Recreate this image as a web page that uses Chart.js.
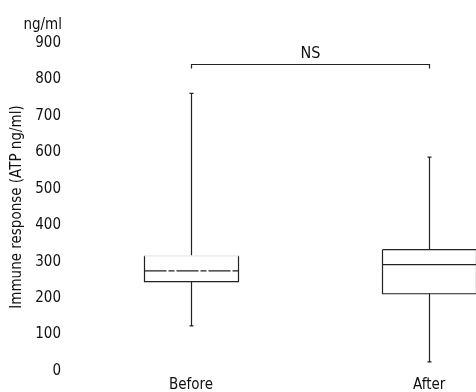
<!DOCTYPE html>
<html>
<head>
<meta charset="utf-8">
<script src="https://cdn.jsdelivr.net/npm/chart.js@4.4.1/dist/chart.umd.min.js"></script>
<style>
  html, body { margin: 0; padding: 0; background: #fff; }
  #wrap { width: 476px; height: 392px; }
</style>
</head>
<body>
<div id="wrap"><canvas id="chart" width="476" height="392"></canvas></div>
<script>
// values
const categories = ['Before', 'After'];
const whiskerLow = [124, 25];
const quartile1 = [245, 212];
const medians = [275, 292];
const quartile3 = [316, 333];
const whiskerHigh = [762, 587];
const yTicks = [0, 100, 200, 300, 400, 500, 600, 700, 800, 900];
const unitLabel = 'ng/ml';
const yTitle = 'Immune response (ATP ng/ml)';
const comparisonLabel = 'NS';
const comparisonLevel = 842;

const ink = '#111';
const lineInk = '#222';
const fontFamily = "'Liberation Sans Narrow', 'DejaVu Sans Condensed', 'Arial Narrow', sans-serif";

const boxPlotPlugin = {
    id: 'boxPlot',
    afterDatasetsDraw(chart) {
        const { ctx, scales: { x, y } } = chart;
        const half = 47;
        const capHalf = 2;

        ctx.save();
        ctx.strokeStyle = lineInk;
        ctx.lineWidth = 1.2;

        categories.forEach((name, i) => {
            const cx = Math.round(x.getPixelForValue(i)) + 0.5;
            const yLow = y.getPixelForValue(whiskerLow[i]);
            const yQ1 = y.getPixelForValue(quartile1[i]);
            const yMed = y.getPixelForValue(medians[i]);
            const yQ3 = y.getPixelForValue(quartile3[i]);
            const yHigh = y.getPixelForValue(whiskerHigh[i]);

            // whiskers
            ctx.beginPath();
            ctx.moveTo(cx, yHigh);
            ctx.lineTo(cx, yQ3);
            ctx.moveTo(cx, yQ1);
            ctx.lineTo(cx, yLow);
            ctx.moveTo(cx - capHalf, yHigh);
            ctx.lineTo(cx + capHalf, yHigh);
            ctx.moveTo(cx - capHalf, yLow);
            ctx.lineTo(cx + capHalf, yLow);
            ctx.stroke();

            // box (the top edge of the first box is faded out in the print)
            ctx.beginPath();
            ctx.moveTo(cx - half, yQ3);
            ctx.lineTo(cx - half, yQ1);
            ctx.lineTo(cx + half, yQ1);
            ctx.lineTo(cx + half, yQ3);
            if (i > 0) ctx.lineTo(cx - half, yQ3);
            ctx.stroke();
            if (i === 0) {
                ctx.save();
                ctx.strokeStyle = '#e8e8e8';
                ctx.beginPath();
                ctx.moveTo(cx - half, yQ3);
                ctx.lineTo(cx + half, yQ3);
                ctx.stroke();
                ctx.restore();
            }

            // median
            ctx.save();
            if (i === 0) ctx.setLineDash([22, 2, 6, 2]);
            ctx.beginPath();
            ctx.moveTo(cx - half, yMed);
            ctx.lineTo(cx + half, yMed);
            ctx.stroke();
            ctx.restore();
        });

        // comparison bracket
        const x0 = Math.round(x.getPixelForValue(0)) + 0.5;
        const x1 = Math.round(x.getPixelForValue(1)) + 0.5;
        const yb = Math.round(y.getPixelForValue(comparisonLevel)) + 0.5;
        ctx.beginPath();
        ctx.moveTo(x0, yb + 4);
        ctx.lineTo(x0, yb);
        ctx.lineTo(x1, yb);
        ctx.lineTo(x1, yb + 4);
        ctx.stroke();

        ctx.fillStyle = ink;
        ctx.font = `16px ${fontFamily}`;
        ctx.textAlign = 'center';
        ctx.textBaseline = 'alphabetic';
        ctx.fillText(comparisonLabel, (x0 + x1) / 2, yb - 7);

        // unit above the y axis
        ctx.font = `15px ${fontFamily}`;
        ctx.textAlign = 'right';
        ctx.fillText(unitLabel, y.right - 2, y.top - 14);

        ctx.restore();
    }
};

const ctx = document.getElementById('chart').getContext('2d');
new Chart(ctx, {
    type: 'scatter',
    data: {
        datasets: [{
            data: medians.map((m, i) => ({ x: i, y: m })),
            pointRadius: 0,
            showLine: false
        }]
    },
    options: {
        responsive: false,
        animation: false,
        layout: { padding: { top: 43, left: 4, right: 0, bottom: 0 } },
        plugins: {
            legend: { display: false },
            tooltip: { enabled: false }
        },
        scales: {
            x: {
                type: 'linear',
                min: -0.534,
                max: 1.197,
                grid: { display: false, drawTicks: false },
                border: { display: false },
                afterBuildTicks: (scale) => {
                    scale.ticks = categories.map((c, i) => ({ value: i }));
                },
                afterFit: (scale) => { scale.height = 21; },
                ticks: {
                    color: ink,
                    padding: 5,
                    font: { family: fontFamily, size: 15 },
                    callback: (value) => categories[value]
                }
            },
            y: {
                min: 0,
                max: 900,
                grid: { display: false, drawTicks: false },
                border: { display: false },
                afterBuildTicks: (scale) => {
                    scale.ticks = yTicks.map(v => ({ value: v }));
                },
                afterFit: (scale) => { scale.width = 60; },
                title: {
                    display: true,
                    text: yTitle,
                    color: ink,
                    padding: { top: 4, bottom: 0 },
                    font: { family: fontFamily, size: 15 }
                },
                ticks: {
                    color: ink,
                    padding: 3,
                    font: { family: fontFamily, size: 15 }
                }
            }
        }
    },
    plugins: [boxPlotPlugin]
});
</script>
</body>
</html>
